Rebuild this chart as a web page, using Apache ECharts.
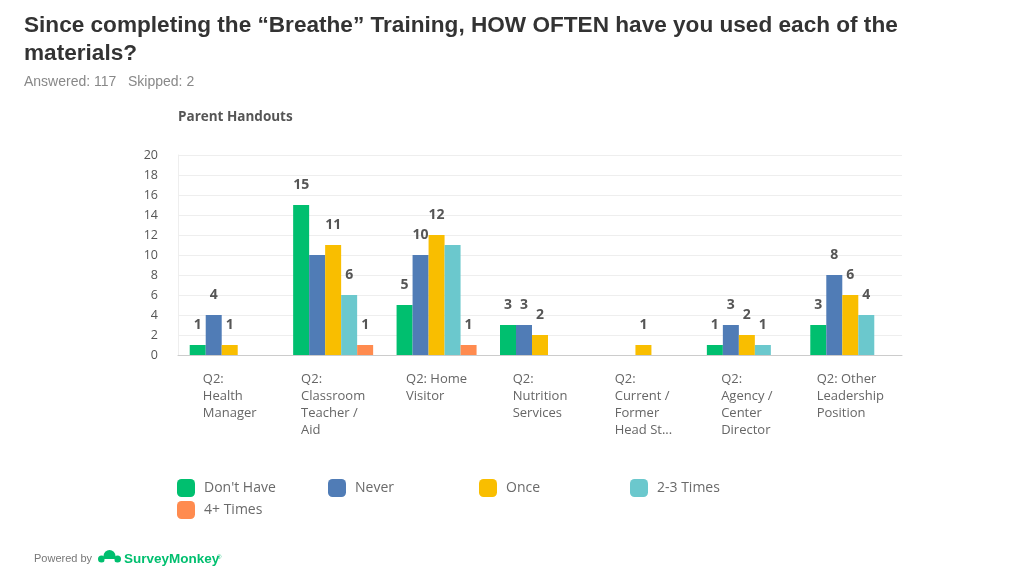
<!DOCTYPE html>
<html>
<head>
<meta charset="utf-8">
<script src="https://cdn.jsdelivr.net/npm/echarts@6/dist/echarts.min.js"></script>
<style>
  html, body { margin: 0; padding: 0; background: #fff; }
  #chart { width: 1024px; height: 576px; }
</style>
</head>
<body>
<div id="chart"></div>
<script>
const categories = [
  'Q2:\nHealth\nManager',
  'Q2:\nClassroom\nTeacher /\nAid',
  'Q2: Home\nVisitor',
  'Q2:\nNutrition\nServices',
  'Q2:\nCurrent /\nFormer\nHead St...',
  'Q2:\nAgency /\nCenter\nDirector',
  'Q2: Other\nLeadership\nPosition'
];
const seriesNames = ["Don't Have", 'Never', 'Once', '2-3 Times', '4+ Times'];
const dontHave = [1, 15, 5, 3, 0, 1, 3];
const never = [4, 10, 10, 3, 0, 3, 8];
const once = [1, 11, 12, 2, 1, 2, 6];
const twoThree = [0, 6, 11, 0, 0, 1, 4];
const fourPlus = [0, 1, 1, 0, 0, 0, 0];
// labels not displayed in the reference (overlapped): [seriesIndex, categoryIndex]
const hiddenLabels = [[1, 1], [3, 2]];
const yTicks = [0, 2, 4, 6, 8, 10, 12, 14, 16, 18, 20];

const colors = ['#00BF6F', '#507CB6', '#F9BE00', '#6BC8CD', '#FF8B4F'];
const allValues = [dontHave, never, once, twoThree, fourPlus];

const chart = echarts.init(document.getElementById('chart'));

const series = allValues.map((vals, si) => ({
  name: seriesNames[si],
  type: 'bar',
  barWidth: 16,
  barGap: '0%',
  itemStyle: { color: colors[si] },
  label: {
    show: true,
    position: 'top',
    distance: 13,
    fontFamily: 'Open Sans',
    fontWeight: 'bold',
    fontSize: 14,
    color: '#555'
  },
  data: vals.map((v, ci) => {
    const hide = v === 0 || hiddenLabels.some(h => h[0] === si && h[1] === ci);
    return hide ? { value: v, label: { show: false } } : v;
  })
}));

const legendPos = [[177, 479], [328, 479], [479, 479], [630, 479], [177, 501]];
const legends = seriesNames.map((n, i) => ({
  data: [n],
  left: legendPos[i][0],
  top: legendPos[i][1],
  padding: 0,
  icon: 'roundRect',
  itemWidth: 18,
  itemHeight: 18,
  selectedMode: false,
  textStyle: { fontFamily: 'Open Sans', fontSize: 14, color: '#6a6a6a', padding: [0, 0, 0, 4] }
}));

chart.setOption({
  animation: false,
  color: colors,
  title: [
    {
      text: 'Since completing the \u201CBreathe\u201D Training, HOW OFTEN have you used each of the\nmaterials?',
      left: 24, top: 12, padding: 0,
      textStyle: { fontFamily: 'Liberation Sans', fontSize: 22.6, fontWeight: 'bold', color: '#333', lineHeight: 28 }
    },
    {
      text: 'Answered: 117   Skipped: 2',
      left: 24, top: 75, padding: 0,
      textStyle: { fontFamily: 'Liberation Sans', fontSize: 14, fontWeight: 'normal', color: '#888' }
    },
    {
      text: 'Parent Handouts',
      left: 178, top: 110, padding: 0,
      textStyle: { fontFamily: 'Open Sans', fontSize: 13.5, fontWeight: 'bold', color: '#555' }
    }
  ],
  legend: legends,
  grid: { left: 178, right: 122, top: 155, bottom: 221, containLabel: false },
  xAxis: {
    type: 'category',
    data: categories,
    axisTick: { show: false },
    axisLine: { show: true, lineStyle: { color: '#ccc', width: 1 } },
    axisLabel: {
      interval: 0,
      margin: 16,
      color: '#666',
      fontFamily: 'Open Sans',
      fontSize: 13,
      lineHeight: 17,
      formatter: v => v.split('\n').map(l => '{l|' + l + '}').join('\n'),
      rich: { l: { align: 'left', fontFamily: 'Open Sans', fontSize: 13, lineHeight: 17, color: '#666' } }
    }
  },
  yAxis: {
    type: 'value',
    min: 0, max: 20, interval: 2,
    axisLine: { show: true, lineStyle: { color: '#eee' } },
    axisTick: { show: false },
    splitLine: { lineStyle: { color: '#eee' } },
    axisLabel: {
      margin: 20,
      color: '#555',
      fontFamily: 'Open Sans',
      fontSize: 12.5,
      formatter: v => yTicks.includes(v) ? String(v) : ''
    }
  },
  series: series,
  graphic: [
    {
      type: 'text', left: 34, top: 553,
      style: { text: 'Powered by', font: '11px "Liberation Sans"', fill: '#777' }
    },
    {
      type: 'group', left: 98, top: 550,
      children: [
        { type: 'circle', shape: { cx: 11, cy: 9, r: 6 }, style: { fill: '#00BF6F' } },
        { type: 'circle', shape: { cx: 3, cy: 12, r: 3.5 }, style: { fill: '#00BF6F' } },
        { type: 'circle', shape: { cx: 19, cy: 12, r: 3.5 }, style: { fill: '#00BF6F' } },
        { type: 'rect', shape: { x: 6, y: 12, width: 10, height: 6 }, style: { fill: '#fff' } }
      ]
    },
    {
      type: 'text', left: 124, top: 552,
      style: { text: 'SurveyMonkey', font: 'bold 13.5px "Liberation Sans"', fill: '#00BF6F' }
    },
    {
      type: 'text', left: 217, top: 554,
      style: { text: '\u00AE', font: '6px "Liberation Sans"', fill: '#00BF6F' }
    }
  ]
});
</script>
</body>
</html>
